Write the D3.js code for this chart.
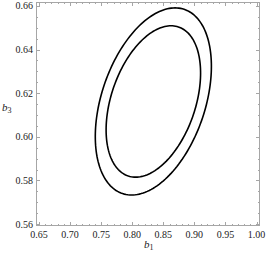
<!DOCTYPE html>
<html>
<head>
<meta charset="utf-8">
<script src="https://cdn.jsdelivr.net/npm/d3@7"></script>
<style>
  html, body { margin: 0; padding: 0; background: #fff; }
  svg { display: block; }
  text { font-family: "Liberation Serif", "DejaVu Serif", serif; }
</style>
</head>
<body>
<svg id="chart" width="266" height="258"></svg>
<script>
// confidence regions for (b1, b3)
var center = [0.834, 0.6162];
var levels = ["inner", "outer"];
var halfWidthB1 = [0.0760, 0.0934];
var halfHeightB3 = [0.0347, 0.0429];
var rho = 0.375;

var xTicks = [0.65, 0.70, 0.75, 0.80, 0.85, 0.90, 0.95, 1.00];
var yTicks = [0.56, 0.58, 0.60, 0.62, 0.64, 0.66];

// note: "top" is taken by window.top, so use other names
var fLeft = 36, fRight = 260, fTop = 2, fBottom = 226;

var svg = d3.select("#chart");

var x = d3.scaleLinear().domain([0.6452, 1.0056]).range([fLeft, fRight]);
var y = d3.scaleLinear().domain([0.5591, 0.6618]).range([fBottom, fTop]);

var xMinor = d3.range(0.65, 1.0051, 0.01);
var yMinor = d3.range(0.56, 0.6601, 0.005);

var frameColor = "#a6a6a6";

// frame
svg.append("rect")
  .attr("x", fLeft + 0.5).attr("y", fTop + 0.5)
  .attr("width", fRight - fLeft - 1).attr("height", fBottom - fTop - 1)
  .attr("fill", "none").attr("stroke", frameColor).attr("stroke-width", 1);

function isMajor(v, list) {
  return list.some(function(t) { return Math.abs(t - v) < 1e-6; });
}

// ticks on all four sides, pointing inward
var tickG = svg.append("g").attr("stroke", frameColor).attr("stroke-width", 1);
xMinor.forEach(function(v) {
  var len = isMajor(v, xTicks) ? 4 : 2;
  var px = Math.round(x(v)) + 0.5;
  tickG.append("line").attr("x1", px).attr("x2", px).attr("y1", fBottom).attr("y2", fBottom - len);
  tickG.append("line").attr("x1", px).attr("x2", px).attr("y1", fTop).attr("y2", fTop + len);
});
yMinor.forEach(function(v) {
  var len = isMajor(v, yTicks) ? 4 : 2;
  var py = Math.round(y(v)) + 0.5;
  tickG.append("line").attr("y1", py).attr("y2", py).attr("x1", fLeft).attr("x2", fLeft + len);
  tickG.append("line").attr("y1", py).attr("y2", py).attr("x1", fRight).attr("x2", fRight - len);
});

// tick labels
svg.append("g").selectAll("text").data(xTicks).enter().append("text")
  .attr("x", function(d) { return x(d); })
  .attr("y", fBottom + 12)
  .attr("text-anchor", "middle")
  .attr("font-size", 10)
  .attr("fill", "#222")
  .text(function(d) { return d.toFixed(2); });

svg.append("g").selectAll("text").data(yTicks).enter().append("text")
  .attr("x", fLeft - 3)
  .attr("y", function(d) { return y(d) + 3.5; })
  .attr("text-anchor", "end")
  .attr("font-size", 10)
  .attr("fill", "#222")
  .text(function(d) { return d.toFixed(2); });

// axis labels
var xl = svg.append("text").attr("x", 144).attr("y", 248)
  .attr("font-size", 11).attr("font-style", "italic").attr("fill", "#222");
xl.append("tspan").text("b");
xl.append("tspan").attr("font-size", 8).attr("font-style", "normal").attr("dy", 2).text("1");

var yl = svg.append("text").attr("x", 2).attr("y", 111)
  .attr("font-size", 11).attr("font-style", "italic").attr("fill", "#222");
yl.append("tspan").text("b");
yl.append("tspan").attr("font-size", 8).attr("font-style", "normal").attr("dy", 2).text("3");

// ellipses
var line = d3.line()
  .x(function(p) { return x(p[0]); })
  .y(function(p) { return y(p[1]); })
  .curve(d3.curveLinearClosed);

var angles = d3.range(0, 2 * Math.PI, Math.PI / 90);
var s = Math.sqrt(1 - rho * rho);

svg.append("g").selectAll("path").data(levels).enter().append("path")
  .attr("d", function(d, i) {
    var pts = angles.map(function(t) {
      return [center[0] + halfWidthB1[i] * Math.cos(t),
              center[1] + halfHeightB3[i] * (rho * Math.cos(t) + s * Math.sin(t))];
    });
    return line(pts);
  })
  .attr("fill", "none")
  .attr("stroke", "#000")
  .attr("stroke-width", 1.6);
</script>
</body>
</html>
